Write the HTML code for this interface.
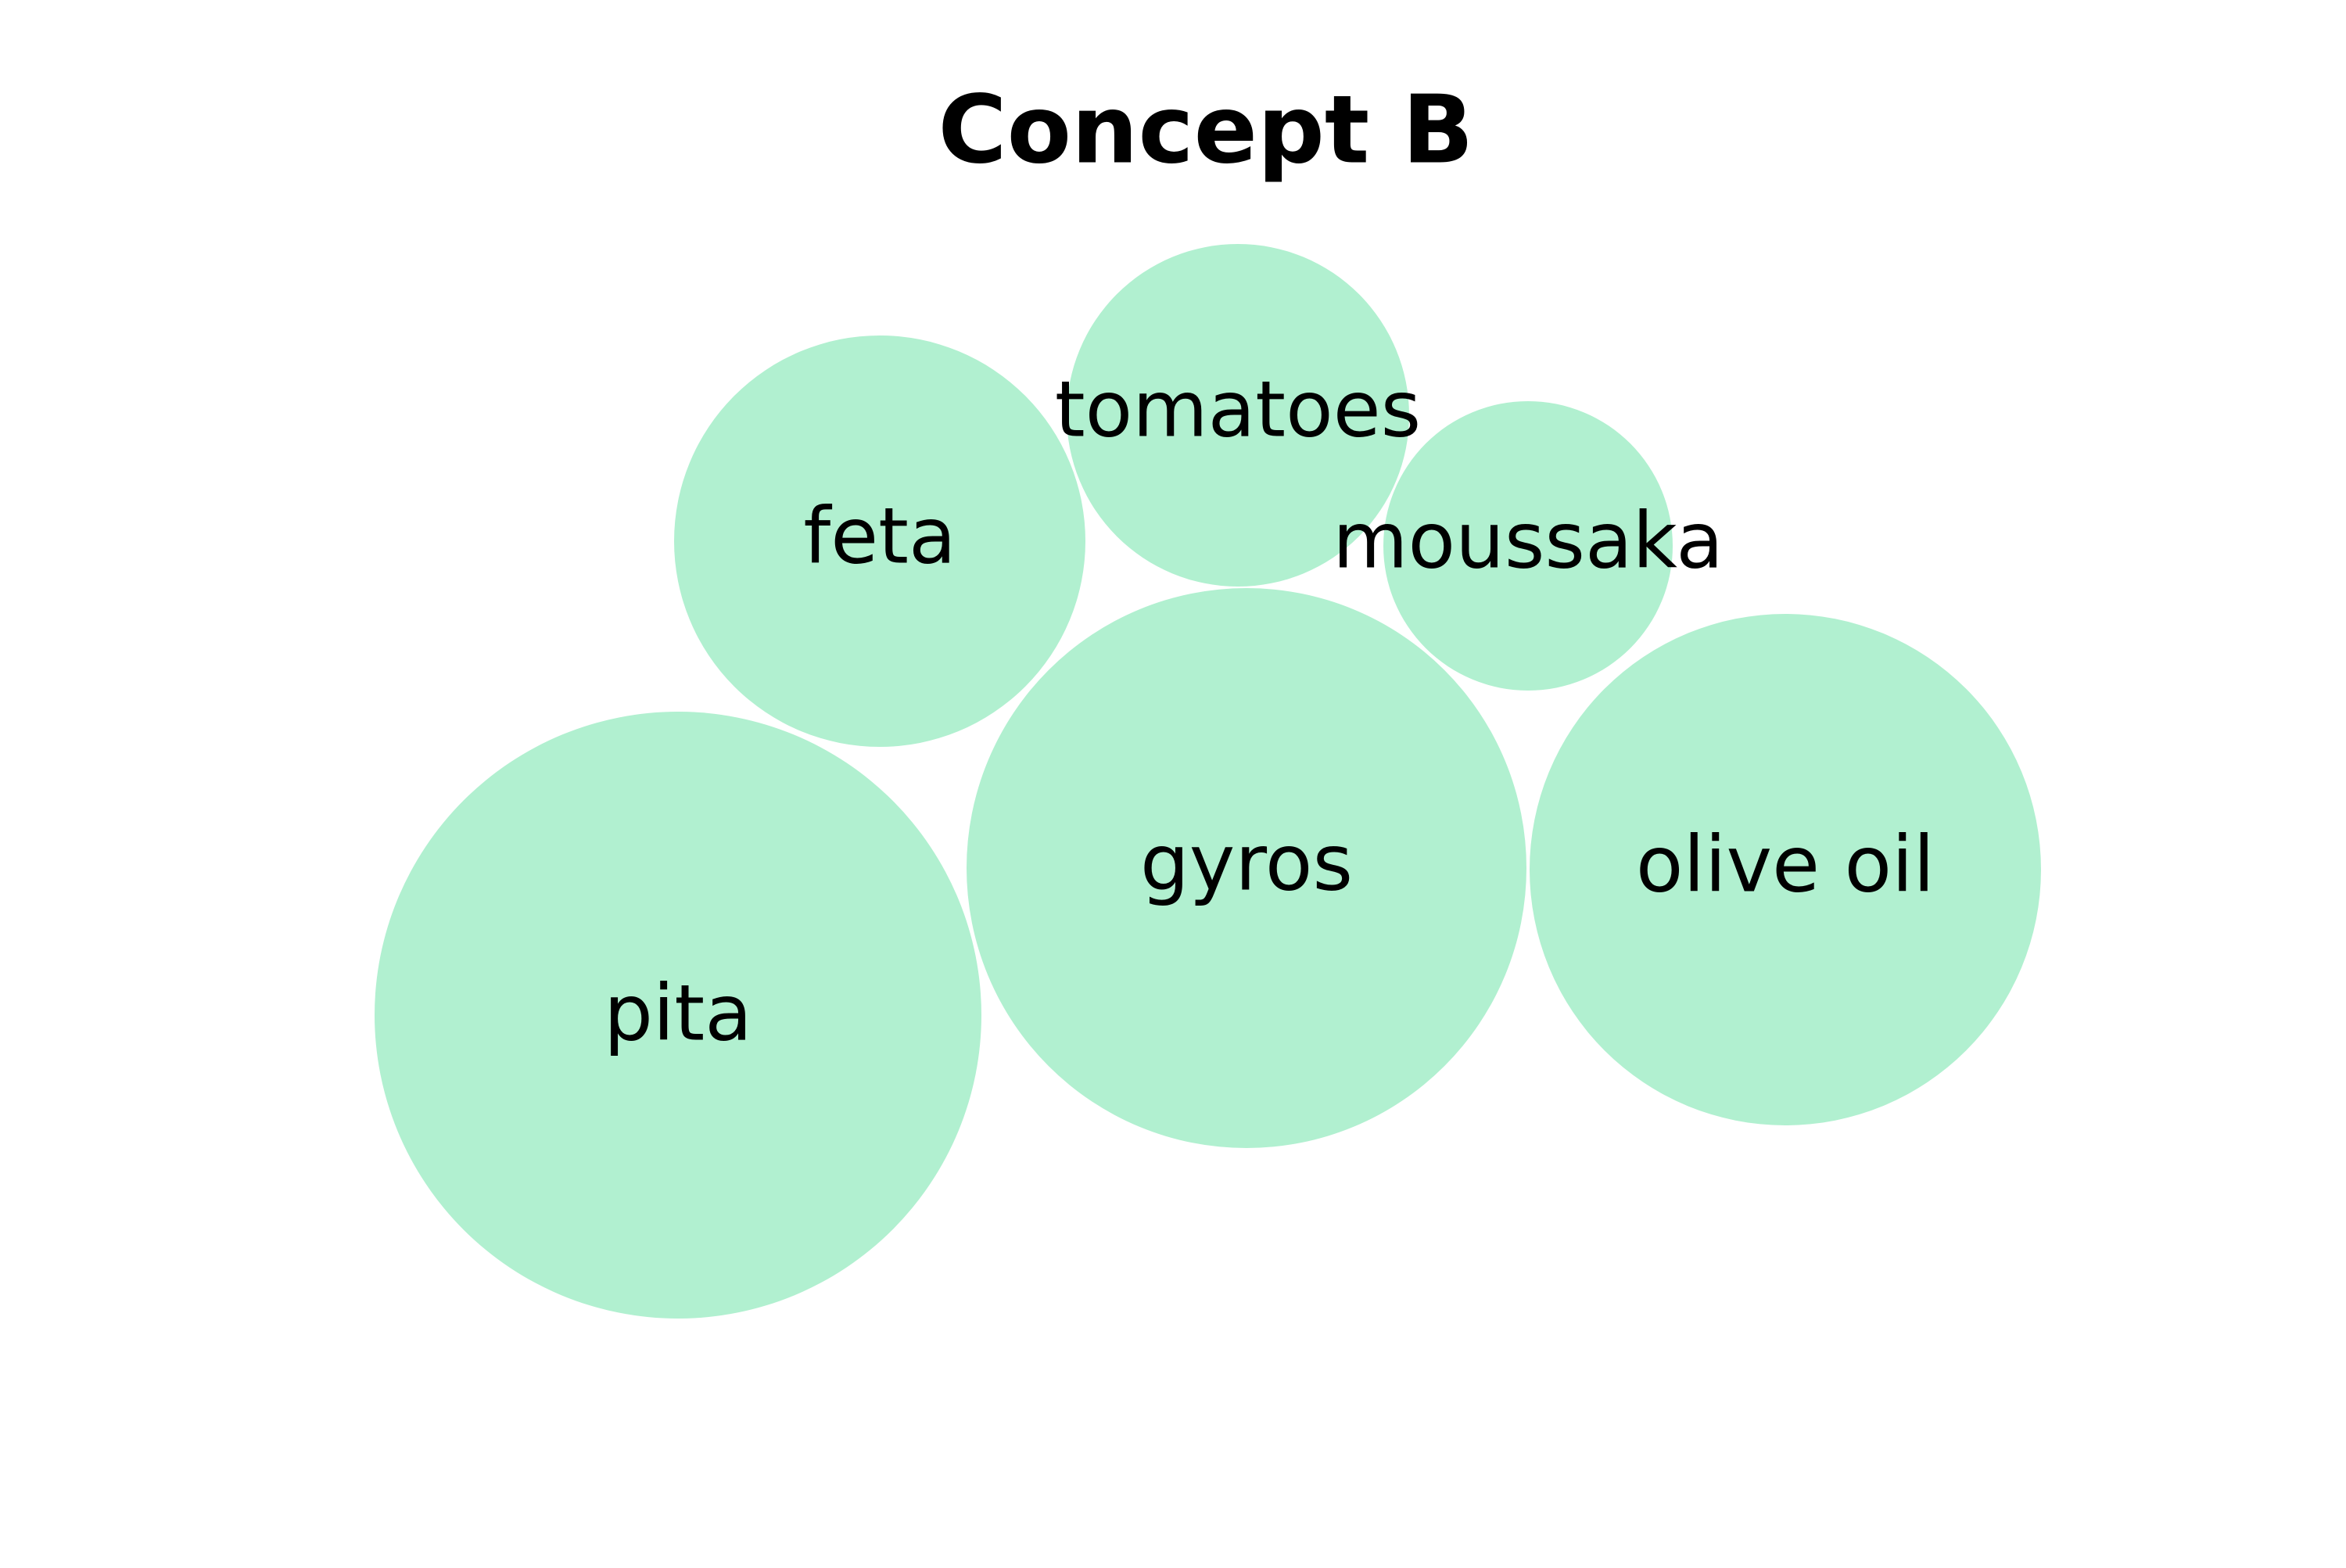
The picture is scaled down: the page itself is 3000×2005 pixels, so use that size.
<!DOCTYPE html>
<html><head><style>html,body{margin:0;padding:0;background:#fff}</style></head>
<body>
<svg width="3000" height="2000" viewBox="0 0 3000 2000" xmlns="http://www.w3.org/2000/svg">
<rect width="3000" height="2000" fill="#fff"/>
<g fill="#b1f0d0">
<circle cx="867" cy="1298" r="388"/>
<circle cx="1594" cy="1110" r="358"/>
<circle cx="2283" cy="1112" r="327"/>
<circle cx="1125" cy="692" r="263"/>
<circle cx="1583" cy="531" r="219"/>
<circle cx="1954" cy="698" r="185"/>
</g>
<text x="1542" y="167" text-anchor="middle" dominant-baseline="central" font-family="DejaVu Sans, sans-serif" font-weight="bold" font-size="120">Concept B</text>
<g font-family="DejaVu Sans, sans-serif" font-size="99" text-anchor="middle" dominant-baseline="central" fill="#000">
<text x="867" y="1296">pita</text>
<text x="1594" y="1104">gyros</text>
<text x="2283" y="1106">olive oil</text>
<text x="1125" y="686">feta</text>
<text x="1583" y="524">tomatoes</text>
<text x="1954" y="692">moussaka</text>
</g>
</svg>
</body></html>
